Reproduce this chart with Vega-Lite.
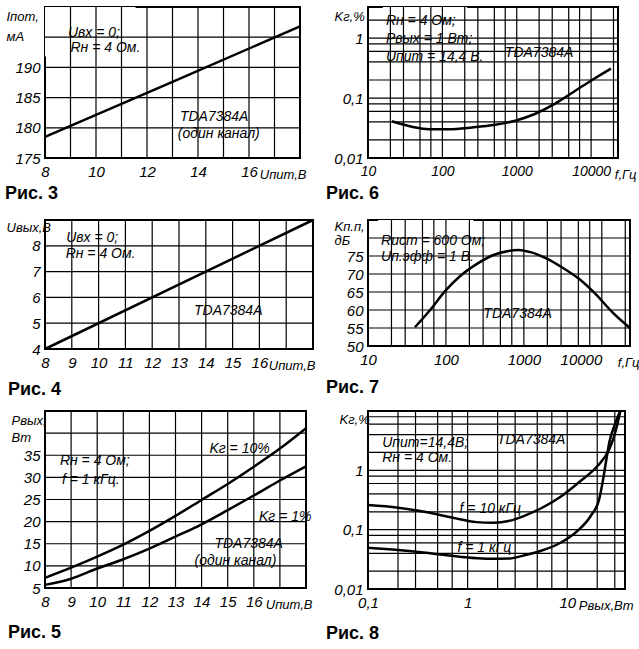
{
  "$schema": "https://vega.github.io/schema/vega-lite/v6.json",
  "background": "white",
  "padding": {"left": 4, "top": 5, "right": 0, "bottom": 0},
  "columns": 2,
  "spacing": {"row": 62, "column": 55},
  "bounds": "flush",
  "align": "each",
  "datasets": {
    "fig3": [
      {"kind": "g", "x": 9, "x2": 9, "y": 175, "y2": 200}, {"kind": "g", "x": 10, "x2": 10, "y": 175, "y2": 200},
      {"kind": "g", "x": 11, "x2": 11, "y": 175, "y2": 200}, {"kind": "g", "x": 12, "x2": 12, "y": 175, "y2": 200},
      {"kind": "g", "x": 13, "x2": 13, "y": 175, "y2": 200}, {"kind": "g", "x": 14, "x2": 14, "y": 175, "y2": 200},
      {"kind": "g", "x": 15, "x2": 15, "y": 175, "y2": 200}, {"kind": "g", "x": 16, "x2": 16, "y": 175, "y2": 200},
      {"kind": "g", "x": 17, "x2": 17, "y": 175, "y2": 200},
      {"kind": "g", "x": 8, "x2": 18, "y": 180, "y2": 180}, {"kind": "g", "x": 8, "x2": 18, "y": 185, "y2": 185},
      {"kind": "g", "x": 8, "x2": 18, "y": 190, "y2": 190}, {"kind": "g", "x": 8, "x2": 18, "y": 195, "y2": 195},
      {"kind": "box", "x": 8, "x2": 11.55, "y": 191.8, "y2": 200},
      {"kind": "box", "x": 13.1, "x2": 16.9, "y": 177.8, "y2": 183.2},
      {"kind": "curve", "s": "a", "x": 8, "y": 178.5}, {"kind": "curve", "s": "a", "x": 13, "y": 187.6}, {"kind": "curve", "s": "a", "x": 18, "y": 196.8},
      {"kind": "note", "x": 8.9, "y": 195.1, "text": "Uвх = 0;"},
      {"kind": "note", "x": 9.0, "y": 192.6, "text": "Rн = 4 Ом."},
      {"kind": "note", "x": 13.29, "y": 181.1, "text": "TDA7384A"},
      {"kind": "note", "x": 13.21, "y": 178.3, "text": "(один канал)"}
    ],
    "fig4": [
      {"kind": "g", "x": 9, "x2": 9, "y": 4, "y2": 9}, {"kind": "g", "x": 10, "x2": 10, "y": 4, "y2": 9},
      {"kind": "g", "x": 11, "x2": 11, "y": 4, "y2": 9}, {"kind": "g", "x": 12, "x2": 12, "y": 4, "y2": 9},
      {"kind": "g", "x": 13, "x2": 13, "y": 4, "y2": 9}, {"kind": "g", "x": 14, "x2": 14, "y": 4, "y2": 9},
      {"kind": "g", "x": 15, "x2": 15, "y": 4, "y2": 9}, {"kind": "g", "x": 16, "x2": 16, "y": 4, "y2": 9},
      {"kind": "g", "x": 17, "x2": 17, "y": 4, "y2": 9},
      {"kind": "g", "x": 8, "x2": 18, "y": 5, "y2": 5}, {"kind": "g", "x": 8, "x2": 18, "y": 6, "y2": 6},
      {"kind": "g", "x": 8, "x2": 18, "y": 7, "y2": 7}, {"kind": "g", "x": 8, "x2": 18, "y": 8, "y2": 8},
      {"kind": "box", "x": 8.57, "x2": 11.2, "y": 7.37, "y2": 8.81},
      {"kind": "box", "x": 13.36, "x2": 16.28, "y": 5.16, "y2": 5.94},
      {"kind": "curve", "s": "a", "x": 8, "y": 4}, {"kind": "curve", "s": "a", "x": 18, "y": 9},
      {"kind": "note", "x": 8.79, "y": 8.15, "text": "Uвх = 0;"},
      {"kind": "note", "x": 8.77, "y": 7.52, "text": "Rн = 4 Ом."},
      {"kind": "note", "x": 13.56, "y": 5.32, "text": "TDA7384A"}
    ],
    "fig5": [
      {"kind": "g", "x": 9, "x2": 9, "y": 5, "y2": 45}, {"kind": "g", "x": 10, "x2": 10, "y": 5, "y2": 45},
      {"kind": "g", "x": 11, "x2": 11, "y": 5, "y2": 45}, {"kind": "g", "x": 12, "x2": 12, "y": 5, "y2": 45},
      {"kind": "g", "x": 13, "x2": 13, "y": 5, "y2": 45}, {"kind": "g", "x": 14, "x2": 14, "y": 5, "y2": 45},
      {"kind": "g", "x": 15, "x2": 15, "y": 5, "y2": 45}, {"kind": "g", "x": 16, "x2": 16, "y": 5, "y2": 45},
      {"kind": "g", "x": 17, "x2": 17, "y": 5, "y2": 45},
      {"kind": "g", "x": 8, "x2": 18, "y": 10, "y2": 10}, {"kind": "g", "x": 8, "x2": 18, "y": 15, "y2": 15},
      {"kind": "g", "x": 8, "x2": 18, "y": 20, "y2": 20}, {"kind": "g", "x": 8, "x2": 18, "y": 25, "y2": 25},
      {"kind": "g", "x": 8, "x2": 18, "y": 30, "y2": 30}, {"kind": "g", "x": 8, "x2": 18, "y": 35, "y2": 35},
      {"kind": "g", "x": 8, "x2": 18, "y": 40, "y2": 40},
      {"kind": "box", "x": 8.53, "x2": 10.98, "y": 26.9, "y2": 37.2},
      {"kind": "box", "x": 14.18, "x2": 16.51, "y": 34.7, "y2": 38.6},
      {"kind": "box", "x": 16.1, "x2": 17.96, "y": 19.2, "y2": 24.2},
      {"kind": "box", "x": 13.6, "x2": 17.24, "y": 9.1, "y2": 17.8},
      {"kind": "curve", "s": "10%", "x": 8, "y": 7.3}, {"kind": "curve", "s": "10%", "x": 9, "y": 9.6}, {"kind": "curve", "s": "10%", "x": 10, "y": 12.1},
      {"kind": "curve", "s": "10%", "x": 11, "y": 14.8}, {"kind": "curve", "s": "10%", "x": 12, "y": 17.9}, {"kind": "curve", "s": "10%", "x": 13, "y": 21.3},
      {"kind": "curve", "s": "10%", "x": 14, "y": 24.9}, {"kind": "curve", "s": "10%", "x": 15, "y": 28.5}, {"kind": "curve", "s": "10%", "x": 16, "y": 32.4},
      {"kind": "curve", "s": "10%", "x": 17, "y": 36.5}, {"kind": "curve", "s": "10%", "x": 18, "y": 41.1},
      {"kind": "curve", "s": "1%", "x": 8, "y": 5.7}, {"kind": "curve", "s": "1%", "x": 9, "y": 7.1}, {"kind": "curve", "s": "1%", "x": 10, "y": 9.4},
      {"kind": "curve", "s": "1%", "x": 11, "y": 11.5}, {"kind": "curve", "s": "1%", "x": 12, "y": 13.9}, {"kind": "curve", "s": "1%", "x": 13, "y": 16.6},
      {"kind": "curve", "s": "1%", "x": 14, "y": 19.4}, {"kind": "curve", "s": "1%", "x": 15, "y": 22.6}, {"kind": "curve", "s": "1%", "x": 16, "y": 25.9},
      {"kind": "curve", "s": "1%", "x": 17, "y": 29.3}, {"kind": "curve", "s": "1%", "x": 18, "y": 32.5},
      {"kind": "note", "x": 8.57, "y": 32.7, "text": "Rн = 4 Ом;"},
      {"kind": "note", "x": 8.65, "y": 28.5, "text": "f = 1 кГц."},
      {"kind": "note", "x": 14.3, "y": 35.4, "text": "Kг = 10%"},
      {"kind": "note", "x": 16.2, "y": 20.1, "text": "Kг = 1%"},
      {"kind": "note", "x": 14.49, "y": 14.1, "text": "TDA7384A"},
      {"kind": "note", "x": 13.73, "y": 10.3, "text": "(один канал)"}
    ],
    "fig6": [
      {"kind": "g", "x": 20, "x2": 20, "y": 0.01, "y2": 3.3}, {"kind": "g", "x": 30, "x2": 30, "y": 0.01, "y2": 3.3},
      {"kind": "g", "x": 50, "x2": 50, "y": 0.01, "y2": 3.3}, {"kind": "g", "x": 70, "x2": 70, "y": 0.01, "y2": 3.3},
      {"kind": "g", "x": 100, "x2": 100, "y": 0.01, "y2": 3.3}, {"kind": "g", "x": 200, "x2": 200, "y": 0.01, "y2": 3.3},
      {"kind": "g", "x": 300, "x2": 300, "y": 0.01, "y2": 3.3}, {"kind": "g", "x": 500, "x2": 500, "y": 0.01, "y2": 3.3},
      {"kind": "g", "x": 700, "x2": 700, "y": 0.01, "y2": 3.3}, {"kind": "g", "x": 1000, "x2": 1000, "y": 0.01, "y2": 3.3},
      {"kind": "g", "x": 2000, "x2": 2000, "y": 0.01, "y2": 3.3}, {"kind": "g", "x": 3000, "x2": 3000, "y": 0.01, "y2": 3.3},
      {"kind": "g", "x": 5000, "x2": 5000, "y": 0.01, "y2": 3.3}, {"kind": "g", "x": 7000, "x2": 7000, "y": 0.01, "y2": 3.3},
      {"kind": "g", "x": 10000, "x2": 10000, "y": 0.01, "y2": 3.3}, {"kind": "g", "x": 20000, "x2": 20000, "y": 0.01, "y2": 3.3},
      {"kind": "g", "x": 10, "x2": 23000, "y": 0.02, "y2": 0.02}, {"kind": "g", "x": 10, "x2": 23000, "y": 0.04, "y2": 0.04},
      {"kind": "g", "x": 10, "x2": 23000, "y": 0.06, "y2": 0.06}, {"kind": "g", "x": 10, "x2": 23000, "y": 0.08, "y2": 0.08},
      {"kind": "g", "x": 10, "x2": 23000, "y": 0.1, "y2": 0.1}, {"kind": "g", "x": 10, "x2": 23000, "y": 0.2, "y2": 0.2},
      {"kind": "g", "x": 10, "x2": 23000, "y": 0.4, "y2": 0.4}, {"kind": "g", "x": 10, "x2": 23000, "y": 0.6, "y2": 0.6},
      {"kind": "g", "x": 10, "x2": 23000, "y": 0.8, "y2": 0.8}, {"kind": "g", "x": 10, "x2": 23000, "y": 1, "y2": 1},
      {"kind": "g", "x": 10, "x2": 23000, "y": 2, "y2": 2},
      {"kind": "box", "x": 15.8, "x2": 215, "y": 0.34, "y2": 3.3},
      {"kind": "box", "x": 491, "x2": 7800, "y": 0.395, "y2": 1},
      {"kind": "curve", "s": "a", "x": 21, "y": 0.041}, {"kind": "curve", "s": "a", "x": 40, "y": 0.033}, {"kind": "curve", "s": "a", "x": 66, "y": 0.0303},
      {"kind": "curve", "s": "a", "x": 123, "y": 0.0303}, {"kind": "curve", "s": "a", "x": 251, "y": 0.0324}, {"kind": "curve", "s": "a", "x": 513, "y": 0.0359},
      {"kind": "curve", "s": "a", "x": 955, "y": 0.0419}, {"kind": "curve", "s": "a", "x": 1750, "y": 0.0542}, {"kind": "curve", "s": "a", "x": 3240, "y": 0.0798},
      {"kind": "curve", "s": "a", "x": 6000, "y": 0.13}, {"kind": "curve", "s": "a", "x": 11000, "y": 0.21}, {"kind": "curve", "s": "a", "x": 18500, "y": 0.309},
      {"kind": "note", "x": 17.4, "y": 1.65, "text": "Rн = 4 Ом;"},
      {"kind": "note", "x": 17.4, "y": 0.824, "text": "Pвых = 1 Вт;"},
      {"kind": "note", "x": 17.4, "y": 0.41, "text": "Uпит = 14,4 В."},
      {"kind": "note", "x": 692, "y": 0.48, "text": "TDA7384A"}
    ],
    "fig7": [
      {"kind": "g", "x": 20, "x2": 20, "y": 50, "y2": 85}, {"kind": "g", "x": 30, "x2": 30, "y": 50, "y2": 85},
      {"kind": "g", "x": 50, "x2": 50, "y": 50, "y2": 85}, {"kind": "g", "x": 70, "x2": 70, "y": 50, "y2": 85},
      {"kind": "g", "x": 100, "x2": 100, "y": 50, "y2": 85}, {"kind": "g", "x": 200, "x2": 200, "y": 50, "y2": 85},
      {"kind": "g", "x": 300, "x2": 300, "y": 50, "y2": 85}, {"kind": "g", "x": 500, "x2": 500, "y": 50, "y2": 85},
      {"kind": "g", "x": 700, "x2": 700, "y": 50, "y2": 85}, {"kind": "g", "x": 1000, "x2": 1000, "y": 50, "y2": 85},
      {"kind": "g", "x": 2000, "x2": 2000, "y": 50, "y2": 85}, {"kind": "g", "x": 3000, "x2": 3000, "y": 50, "y2": 85},
      {"kind": "g", "x": 5000, "x2": 5000, "y": 50, "y2": 85}, {"kind": "g", "x": 7000, "x2": 7000, "y": 50, "y2": 85},
      {"kind": "g", "x": 10000, "x2": 10000, "y": 50, "y2": 85}, {"kind": "g", "x": 20000, "x2": 20000, "y": 50, "y2": 85},
      {"kind": "g", "x": 10, "x2": 23000, "y": 55, "y2": 55}, {"kind": "g", "x": 10, "x2": 23000, "y": 60, "y2": 60},
      {"kind": "g", "x": 10, "x2": 23000, "y": 65, "y2": 65}, {"kind": "g", "x": 10, "x2": 23000, "y": 70, "y2": 70},
      {"kind": "g", "x": 10, "x2": 23000, "y": 75, "y2": 75}, {"kind": "g", "x": 10, "x2": 23000, "y": 80, "y2": 80},
      {"kind": "box", "x": 13.4, "x2": 225, "y": 72.2, "y2": 85},
      {"kind": "box", "x": 212, "x2": 3530, "y": 56.4, "y2": 62.2},
      {"kind": "curve", "s": "a", "x": 40, "y": 55.2}, {"kind": "curve", "s": "a", "x": 60, "y": 59.5}, {"kind": "curve", "s": "a", "x": 100, "y": 65.5},
      {"kind": "curve", "s": "a", "x": 150, "y": 69.3}, {"kind": "curve", "s": "a", "x": 250, "y": 72.8}, {"kind": "curve", "s": "a", "x": 400, "y": 75.2},
      {"kind": "curve", "s": "a", "x": 630, "y": 76.4}, {"kind": "curve", "s": "a", "x": 850, "y": 76.7}, {"kind": "curve", "s": "a", "x": 1250, "y": 76.0},
      {"kind": "curve", "s": "a", "x": 2000, "y": 74.2}, {"kind": "curve", "s": "a", "x": 3000, "y": 72.0}, {"kind": "curve", "s": "a", "x": 5000, "y": 68.8},
      {"kind": "curve", "s": "a", "x": 8000, "y": 64.8}, {"kind": "curve", "s": "a", "x": 13500, "y": 59.5}, {"kind": "curve", "s": "a", "x": 23000, "y": 55.0},
      {"kind": "note", "x": 14.7, "y": 78.1, "text": "Rист = 600 Ом;"},
      {"kind": "note", "x": 14.7, "y": 73.6, "text": "Uп.эфф = 1 В."},
      {"kind": "note", "x": 302, "y": 57.8, "text": "TDA7384A"}
    ],
    "fig8": [
      {"kind": "g", "x": 0.2, "x2": 0.2, "y": 0.01, "y2": 10}, {"kind": "g", "x": 0.3, "x2": 0.3, "y": 0.01, "y2": 10},
      {"kind": "g", "x": 0.5, "x2": 0.5, "y": 0.01, "y2": 10}, {"kind": "g", "x": 0.7, "x2": 0.7, "y": 0.01, "y2": 10},
      {"kind": "g", "x": 1, "x2": 1, "y": 0.01, "y2": 10}, {"kind": "g", "x": 2, "x2": 2, "y": 0.01, "y2": 10},
      {"kind": "g", "x": 3, "x2": 3, "y": 0.01, "y2": 10}, {"kind": "g", "x": 5, "x2": 5, "y": 0.01, "y2": 10},
      {"kind": "g", "x": 7, "x2": 7, "y": 0.01, "y2": 10}, {"kind": "g", "x": 10, "x2": 10, "y": 0.01, "y2": 10},
      {"kind": "g", "x": 20, "x2": 20, "y": 0.01, "y2": 10}, {"kind": "g", "x": 30, "x2": 30, "y": 0.01, "y2": 10},
      {"kind": "g", "x": 0.1, "x2": 38, "y": 0.02, "y2": 0.02}, {"kind": "g", "x": 0.1, "x2": 38, "y": 0.04, "y2": 0.04},
      {"kind": "g", "x": 0.1, "x2": 38, "y": 0.06, "y2": 0.06}, {"kind": "g", "x": 0.1, "x2": 38, "y": 0.08, "y2": 0.08},
      {"kind": "g", "x": 0.1, "x2": 38, "y": 0.1, "y2": 0.1}, {"kind": "g", "x": 0.1, "x2": 38, "y": 0.2, "y2": 0.2},
      {"kind": "g", "x": 0.1, "x2": 38, "y": 0.4, "y2": 0.4}, {"kind": "g", "x": 0.1, "x2": 38, "y": 0.6, "y2": 0.6},
      {"kind": "g", "x": 0.1, "x2": 38, "y": 0.8, "y2": 0.8}, {"kind": "g", "x": 0.1, "x2": 38, "y": 1, "y2": 1},
      {"kind": "g", "x": 0.1, "x2": 38, "y": 2, "y2": 2}, {"kind": "g", "x": 0.1, "x2": 38, "y": 4, "y2": 4},
      {"kind": "g", "x": 0.1, "x2": 38, "y": 6, "y2": 6}, {"kind": "g", "x": 0.1, "x2": 38, "y": 8, "y2": 8},
      {"kind": "box", "x": 0.123, "x2": 0.74, "y": 1.18, "y2": 5.6},
      {"kind": "box", "x": 1.76, "x2": 11.7, "y": 2.38, "y2": 5},
      {"kind": "box", "x": 0.78, "x2": 3.54, "y": 0.183, "y2": 0.34},
      {"kind": "box", "x": 0.74, "x2": 3.15, "y": 0.04, "y2": 0.078},
      {"kind": "curve", "s": "10", "x": 0.1, "y": 0.26}, {"kind": "curve", "s": "10", "x": 0.2, "y": 0.235}, {"kind": "curve", "s": "10", "x": 0.38, "y": 0.198},
      {"kind": "curve", "s": "10", "x": 0.71, "y": 0.159}, {"kind": "curve", "s": "10", "x": 1.22, "y": 0.134}, {"kind": "curve", "s": "10", "x": 1.81, "y": 0.131},
      {"kind": "curve", "s": "10", "x": 2.66, "y": 0.142}, {"kind": "curve", "s": "10", "x": 3.6, "y": 0.168}, {"kind": "curve", "s": "10", "x": 5.6, "y": 0.234},
      {"kind": "curve", "s": "10", "x": 8.8, "y": 0.369}, {"kind": "curve", "s": "10", "x": 13.6, "y": 0.66}, {"kind": "curve", "s": "10", "x": 20.1, "y": 1.18},
      {"kind": "curve", "s": "10", "x": 26.4, "y": 2.26}, {"kind": "curve", "s": "10", "x": 29.6, "y": 3.79}, {"kind": "curve", "s": "10", "x": 32.1, "y": 6.35},
      {"kind": "curve", "s": "10", "x": 34.1, "y": 10},
      {"kind": "curve", "s": "1", "x": 0.1, "y": 0.0495}, {"kind": "curve", "s": "1", "x": 0.2, "y": 0.0453}, {"kind": "curve", "s": "1", "x": 0.38, "y": 0.0408},
      {"kind": "curve", "s": "1", "x": 0.83, "y": 0.0349}, {"kind": "curve", "s": "1", "x": 1.54, "y": 0.0323}, {"kind": "curve", "s": "1", "x": 2.66, "y": 0.0327},
      {"kind": "curve", "s": "1", "x": 3.6, "y": 0.0365}, {"kind": "curve", "s": "1", "x": 5.36, "y": 0.0436}, {"kind": "curve", "s": "1", "x": 8.55, "y": 0.0601},
      {"kind": "curve", "s": "1", "x": 12.6, "y": 0.0946}, {"kind": "curve", "s": "1", "x": 17.2, "y": 0.17}, {"kind": "curve", "s": "1", "x": 20.9, "y": 0.324},
      {"kind": "curve", "s": "1", "x": 22.6, "y": 0.618}, {"kind": "curve", "s": "1", "x": 24.4, "y": 1.34}, {"kind": "curve", "s": "1", "x": 26.4, "y": 2.92},
      {"kind": "curve", "s": "1", "x": 29.6, "y": 5.58}, {"kind": "curve", "s": "1", "x": 34.1, "y": 10},
      {"kind": "note", "x": 0.139, "y": 2.45, "text": "Uпит=14,4В;"},
      {"kind": "note", "x": 0.139, "y": 1.38, "text": "Rн = 4 Ом."},
      {"kind": "note", "x": 1.97, "y": 2.77, "text": "TDA7384A"},
      {"kind": "note", "x": 0.83, "y": 0.19, "text": "f = 10 кГц"},
      {"kind": "note", "x": 0.79, "y": 0.042, "text": "f = 1 кГц"}
    ]
  },
  "concat": [
    {
      "width": 255, "height": 151,
      "title": {"text": "Рис. 3", "dx": -40, "offset": 4},
      "data": {"name": "fig3"},
      "encoding": {
        "x": {"field": "x", "type": "quantitative", "scale": {"domain": [8, 18], "nice": false, "zero": false},
              "axis": {"grid": false, "values": [8, 9, 10, 11, 12, 13, 14, 15, 16, 17], "labelExpr": "datum.value % 2 == 0 ? datum.label : ''", "title": "Uпит,В", "titleX": 261}},
        "y": {"field": "y", "type": "quantitative", "scale": {"domain": [175, 200], "nice": false, "zero": false},
              "axis": {"grid": false, "values": [175, 180, 185, 190, 195], "labelExpr": "datum.value <= 190 ? datum.label : ''", "title": ["Iпот,", "мА"], "titleX": -39, "titleY": 13, "titleLineHeight": 20}}
      },
      "layer": [
        {"transform": [{"filter": "datum.kind == 'box'"}], "mark": {"type": "rect", "color": "white", "opacity": 1}, "encoding": {"x2": {"field": "x2"}, "y2": {"field": "y2"}}},
        {"transform": [{"filter": "datum.kind == 'g'"}], "mark": "rule", "encoding": {"x2": {"field": "x2"}, "y2": {"field": "y2"}}},
        {"transform": [{"filter": "datum.kind == 'curve'"}], "mark": "line", "encoding": {"detail": {"field": "s", "type": "nominal"}}},
        {"transform": [{"filter": "datum.kind == 'note'"}], "mark": {"type": "text", "align": "left", "baseline": "alphabetic"}, "encoding": {"text": {"field": "text", "type": "nominal"}}}
      ]
    },
    {
      "width": 250, "height": 151,
      "title": {"text": "Рис. 6", "dx": -42, "offset": 4},
      "data": {"name": "fig6"},
      "encoding": {
        "x": {"field": "x", "type": "quantitative", "scale": {"type": "log", "domain": [10, 23000], "nice": false},
              "axis": {"grid": false, "labelFontSize": 14, "values": [10, 100, 1000, 10000], "labelExpr": "'' + datum.value", "title": "f,Гц", "titleX": 268}},
        "y": {"field": "y", "type": "quantitative", "scale": {"type": "log", "domain": [0.01, 3.3], "nice": false},
              "axis": {"grid": false, "values": [0.01, 0.1, 1], "labelExpr": "datum.value == 0.01 ? '0,01' : datum.value == 0.1 ? '0,1' : '1'", "title": "Kг,%", "titleX": -34, "titleY": 13}}
      },
      "layer": [
        {"transform": [{"filter": "datum.kind == 'box'"}], "mark": {"type": "rect", "color": "white", "opacity": 1}, "encoding": {"x2": {"field": "x2"}, "y2": {"field": "y2"}}},
        {"transform": [{"filter": "datum.kind == 'g'"}], "mark": "rule", "encoding": {"x2": {"field": "x2"}, "y2": {"field": "y2"}}},
        {"transform": [{"filter": "datum.kind == 'curve'"}], "mark": "line", "encoding": {"detail": {"field": "s", "type": "nominal"}}},
        {"transform": [{"filter": "datum.kind == 'note'"}], "mark": {"type": "text", "align": "left", "baseline": "alphabetic"}, "encoding": {"text": {"field": "text", "type": "nominal"}}}
      ]
    },
    {
      "width": 268, "height": 129,
      "title": {"text": "Рис. 4", "dx": -37, "offset": 9},
      "data": {"name": "fig4"},
      "encoding": {
        "x": {"field": "x", "type": "quantitative", "scale": {"domain": [8, 18], "nice": false, "zero": false},
              "axis": {"grid": false, "values": [8, 9, 10, 11, 12, 13, 14, 15, 16], "title": "Uпит,В", "titleX": 270}},
        "y": {"field": "y", "type": "quantitative", "scale": {"domain": [4, 9], "nice": false, "zero": false},
              "axis": {"grid": false, "values": [4, 5, 6, 7, 8], "title": "Uвых,В", "titleX": -39, "titleY": 11}}
      },
      "layer": [
        {"transform": [{"filter": "datum.kind == 'box'"}], "mark": {"type": "rect", "color": "white", "opacity": 1}, "encoding": {"x2": {"field": "x2"}, "y2": {"field": "y2"}}},
        {"transform": [{"filter": "datum.kind == 'g'"}], "mark": "rule", "encoding": {"x2": {"field": "x2"}, "y2": {"field": "y2"}}},
        {"transform": [{"filter": "datum.kind == 'curve'"}], "mark": "line", "encoding": {"detail": {"field": "s", "type": "nominal"}}},
        {"transform": [{"filter": "datum.kind == 'note'"}], "mark": {"type": "text", "align": "left", "baseline": "alphabetic"}, "encoding": {"text": {"field": "text", "type": "nominal"}}}
      ]
    },
    {
      "width": 262, "height": 126,
      "title": {"text": "Рис. 7", "dx": -42, "offset": 10},
      "data": {"name": "fig7"},
      "encoding": {
        "x": {"field": "x", "type": "quantitative", "scale": {"type": "log", "domain": [10, 23000], "nice": false},
              "axis": {"grid": false, "labelAlign": {"condition": {"test": "datum.value == 10000", "value": "right"}, "value": "center"}, "values": [10, 100, 1000, 10000], "labelExpr": "'' + datum.value", "title": "f,Гц", "titleX": 271}},
        "y": {"field": "y", "type": "quantitative", "scale": {"domain": [50, 85], "nice": false, "zero": false},
              "axis": {"grid": false, "values": [50, 55, 60, 65, 70, 75], "title": ["Kп.п,", "дБ"], "titleX": -34, "titleY": 10, "titleLineHeight": 14}}
      },
      "layer": [
        {"transform": [{"filter": "datum.kind == 'box'"}], "mark": {"type": "rect", "color": "white", "opacity": 1}, "encoding": {"x2": {"field": "x2"}, "y2": {"field": "y2"}}},
        {"transform": [{"filter": "datum.kind == 'g'"}], "mark": "rule", "encoding": {"x2": {"field": "x2"}, "y2": {"field": "y2"}}},
        {"transform": [{"filter": "datum.kind == 'curve'"}], "mark": "line", "encoding": {"detail": {"field": "s", "type": "nominal"}}},
        {"transform": [{"filter": "datum.kind == 'note'"}], "mark": {"type": "text", "align": "left", "baseline": "alphabetic"}, "encoding": {"text": {"field": "text", "type": "nominal"}}}
      ]
    },
    {
      "width": 261, "height": 177,
      "title": {"text": "Рис. 5", "dx": -37, "offset": 13},
      "data": {"name": "fig5"},
      "encoding": {
        "x": {"field": "x", "type": "quantitative", "scale": {"domain": [8, 18], "nice": false, "zero": false},
              "axis": {"grid": false, "values": [8, 9, 10, 11, 12, 13, 14, 15, 16], "title": "Uпит,В", "titleX": 267}},
        "y": {"field": "y", "type": "quantitative", "scale": {"domain": [5, 45], "nice": false, "zero": false},
              "axis": {"grid": false, "values": [5, 10, 15, 20, 25, 30, 35], "title": ["Pвых,", "Вт"], "titleX": -34, "titleY": 13, "titleLineHeight": 17}}
      },
      "layer": [
        {"transform": [{"filter": "datum.kind == 'box'"}], "mark": {"type": "rect", "color": "white", "opacity": 1}, "encoding": {"x2": {"field": "x2"}, "y2": {"field": "y2"}}},
        {"transform": [{"filter": "datum.kind == 'g'"}], "mark": "rule", "encoding": {"x2": {"field": "x2"}, "y2": {"field": "y2"}}},
        {"transform": [{"filter": "datum.kind == 'curve'"}], "mark": "line", "encoding": {"detail": {"field": "s", "type": "nominal"}}},
        {"transform": [{"filter": "datum.kind == 'note'"}], "mark": {"type": "text", "align": "left", "baseline": "alphabetic"}, "encoding": {"text": {"field": "text", "type": "nominal"}}}
      ]
    },
    {
      "width": 257, "height": 178,
      "title": {"text": "Рис. 8", "dx": -42, "offset": 13},
      "data": {"name": "fig8"},
      "encoding": {
        "x": {"field": "x", "type": "quantitative", "scale": {"type": "log", "domain": [0.1, 38], "nice": false},
              "axis": {"grid": false, "values": [0.1, 1, 10], "labelExpr": "datum.value == 0.1 ? '0,1' : '' + datum.value", "title": "Pвых,Вт", "titleX": 265}},
        "y": {"field": "y", "type": "quantitative", "scale": {"type": "log", "domain": [0.01, 10], "nice": false},
              "axis": {"grid": false, "values": [0.01, 0.1, 1], "labelExpr": "datum.value == 0.01 ? '0,01' : datum.value == 0.1 ? '0,1' : '1'", "title": "Kг,%", "titleX": -29, "titleY": 12}}
      },
      "layer": [
        {"transform": [{"filter": "datum.kind == 'box'"}], "mark": {"type": "rect", "color": "white", "opacity": 1}, "encoding": {"x2": {"field": "x2"}, "y2": {"field": "y2"}}},
        {"transform": [{"filter": "datum.kind == 'g'"}], "mark": "rule", "encoding": {"x2": {"field": "x2"}, "y2": {"field": "y2"}}},
        {"transform": [{"filter": "datum.kind == 'curve'"}], "mark": "line", "encoding": {"detail": {"field": "s", "type": "nominal"}}},
        {"transform": [{"filter": "datum.kind == 'note'"}], "mark": {"type": "text", "align": "left", "baseline": "alphabetic"}, "encoding": {"text": {"field": "text", "type": "nominal"}}}
      ]
    }
  ],
  "config": {
    "view": {"stroke": "black", "strokeWidth": 2},
    "axis": {
      "domain": false, "ticks": false,
      "labelFont": "Liberation Sans", "labelFontStyle": "italic", "labelFontSize": 15, "labelColor": "black",
      "labelFlush": false, "labelOverlap": false, "labelBound": false,
      "titleFont": "Liberation Sans", "titleFontStyle": "italic", "titleFontWeight": "normal", "titleFontSize": 13, "titleColor": "black",
      "titleAngle": 0
    },
    "axisX": {"labelPadding": 6, "titleAlign": "right", "titleBaseline": "alphabetic", "titleY": 20},
    "axisY": {"labelPadding": 5, "titleAlign": "left", "titleBaseline": "alphabetic"},
    "title": {"font": "Liberation Sans", "fontSize": 18, "fontWeight": "bold", "color": "black", "orient": "bottom", "anchor": "start", "frame": "group"},
    "rule": {"color": "black", "strokeWidth": 1.2},
    "line": {"color": "black", "strokeWidth": 2.5, "interpolate": "monotone"},
    "text": {"font": "Liberation Sans", "fontStyle": "italic", "fontSize": 14, "color": "black"}
  }
}
